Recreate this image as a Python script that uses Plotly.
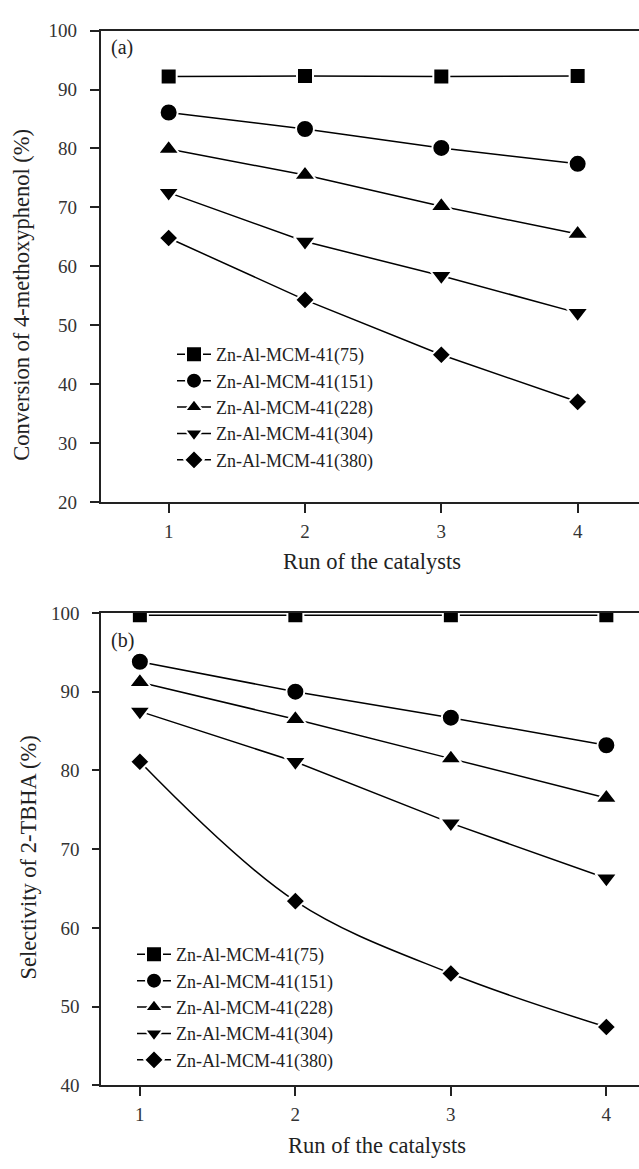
import plotly.graph_objects as go

runs = [1, 2, 3, 4]
names = ["Zn-Al-MCM-41(75)", "Zn-Al-MCM-41(151)", "Zn-Al-MCM-41(228)",
         "Zn-Al-MCM-41(304)", "Zn-Al-MCM-41(380)"]
symbols = ["square", "circle", "triangle-up", "triangle-down", "diamond"]

# (a) Conversion of 4-methoxyphenol (%)
conv_75 = [92.2, 92.3, 92.2, 92.3]
conv_151 = [86.1, 83.3, 80.1, 77.4]
conv_228 = [79.9, 75.5, 70.2, 65.5]
conv_304 = [72.5, 64.2, 58.4, 52.1]
conv_380 = [64.8, 54.3, 45.0, 37.0]

# (b) Selectivity of 2-TBHA (%)
sel_75 = [99.7, 99.7, 99.7, 99.7]
sel_151 = [93.8, 90.0, 86.7, 83.2]
sel_228 = [91.2, 86.5, 81.5, 76.5]
sel_304 = [87.5, 81.1, 73.3, 66.3]
sel_380 = [81.1, 63.4, 54.2, 47.4]

conv_series = [conv_75, conv_151, conv_228, conv_304, conv_380]
sel_series = [sel_75, sel_151, sel_228, sel_304, sel_380]

FONT = "Liberation Serif"
W, H = 639, 1169
marker_sizes = {"square": 16, "circle": 18, "triangle-up": 19,
                "triangle-down": 19, "diamond": 15}

fig = go.Figure()

def add(series, xa, ya, legend, spline_last=False):
    for i, (nm, sym, ys) in enumerate(zip(names, symbols, series)):
        shape = "spline" if (spline_last and i == 4) else "linear"
        fig.add_trace(go.Scatter(
            x=runs, y=ys, name=nm, mode="lines+markers",
            xaxis=xa, yaxis=ya, legend=legend,
            line=dict(color="black", width=1.5, shape=shape),
            marker=dict(symbol=sym, size=marker_sizes[sym], color="black",
                        line=dict(color="white", width=2)),
        ))

add(conv_series, "x", "y", "legend")
add(sel_series, "x2", "y2", "legend2", spline_last=True)

axis_common = dict(
    showline=True, linecolor="#222", linewidth=1.5,
    ticks="outside", tickcolor="#222", tickwidth=1.5,
    showgrid=False, zeroline=False,
    tickfont=dict(family=FONT, size=19, color="#333"),
)

def px_x(p):
    return p / W

def px_y(p):
    return 1 - p / H

def label(text, x, y, size, angle=0):
    return dict(text=text, x=px_x(x), y=px_y(y), xref="paper", yref="paper",
                xanchor="center", yanchor="middle", showarrow=False,
                textangle=angle, font=dict(family=FONT, size=size, color="#222"))

fig.update_layout(
    width=W, height=H,
    margin=dict(l=0, r=0, t=0, b=0),
    paper_bgcolor="white", plot_bgcolor="white",
    font=dict(family=FONT, size=18, color="#222"),
    showlegend=True,
    xaxis=dict(domain=[px_x(100.5), 1], anchor="y", range=[0.5, 4.45],
               tickvals=runs, ticklen=9, mirror=True, ticklabelstandoff=2,
               **axis_common),
    yaxis=dict(domain=[px_y(501), px_y(21)], anchor="x", range=[20, 100],
               dtick=10, ticklen=9, ticklabelstandoff=9,
               **axis_common),
    xaxis2=dict(domain=[px_x(101), 1], anchor="y2", range=[0.75, 4.21],
                tickvals=runs, ticklen=9, mirror=True, ticklabelstandoff=2,
                **axis_common),
    yaxis2=dict(domain=[px_y(1095), px_y(614)], anchor="x2", range=[40, 100],
                dtick=10, ticklen=7, ticklabelstandoff=9,
                **axis_common),
    legend=dict(x=px_x(172), y=px_y(332), xanchor="left", yanchor="top",
                bgcolor="rgba(0,0,0,0)", font=dict(family=FONT, size=18, color="#222"),
                tracegroupgap=0, itemwidth=34),
    legend2=dict(x=px_x(132), y=px_y(943), xanchor="left", yanchor="top",
                 bgcolor="rgba(0,0,0,0)", font=dict(family=FONT, size=18, color="#222"),
                 tracegroupgap=0, itemwidth=34),
    annotations=[
        label("(a)", 122, 38, 20),
        label("(b)", 122, 642, 20),
        label("Conversion of 4-methoxyphenol (%)", 22, 290, 22.5, -90),
        label("Run of the catalysts", 372, 562, 22.5),
        label("Selectivity of 2-TBHA (%)", 28, 863, 22.5, -90),
        label("Run of the catalysts", 377, 1156, 22.5),
    ],
)

fig.write_html("out.html")
